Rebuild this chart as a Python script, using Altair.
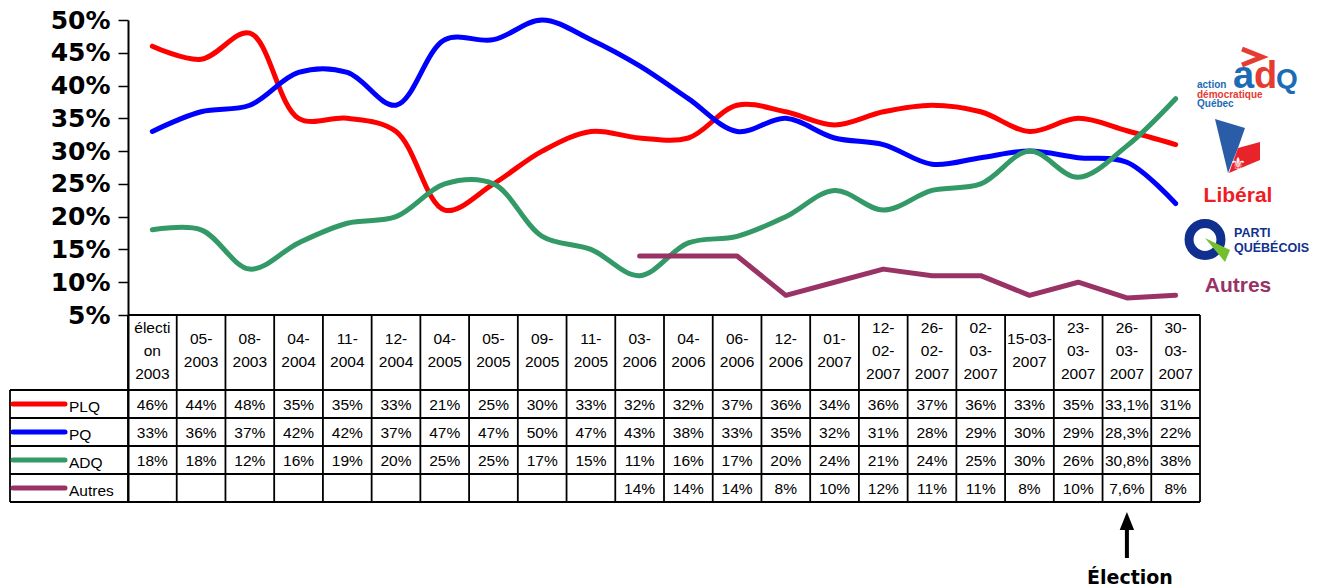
import altair as alt
import pandas as pd

# ---------------- data ----------------
dates = ["électi\non\n2003", "05-\n2003", "08-\n2003", "04-\n2004", "11-\n2004", "12-\n2004",
         "04-\n2005", "05-\n2005", "09-\n2005", "11-\n2005", "03-\n2006", "04-\n2006",
         "06-\n2006", "12-\n2006", "01-\n2007", "12-\n02-\n2007", "26-\n02-\n2007",
         "02-\n03-\n2007", "15-03-\n2007", "23-\n03-\n2007", "26-\n03-\n2007", "30-\n03-\n2007"]
PLQ = [46, 44, 48, 35, 35, 33, 21, 25, 30, 33, 32, 32, 37, 36, 34, 36, 37, 36, 33, 35, 33.1, 31]
PQ = [33, 36, 37, 42, 42, 37, 47, 47, 50, 47, 43, 38, 33, 35, 32, 31, 28, 29, 30, 29, 28.3, 22]
ADQ = [18, 18, 12, 16, 19, 20, 25, 25, 17, 15, 11, 16, 17, 20, 24, 21, 24, 25, 30, 26, 30.8, 38]
AUTRES = [None] * 10 + [14, 14, 14, 8, 10, 12, 11, 11, 8, 10, 7.6, 8]
parties = ["PLQ", "PQ", "ADQ", "Autres"]
colors = ["#FF0000", "#0000FF", "#339966", "#993366"]
y_ticks = [5, 10, 15, 20, 25, 30, 35, 40, 45, 50]
election_index = 20

series = {"PLQ": PLQ, "PQ": PQ, "ADQ": ADQ, "Autres": AUTRES}

# ---------------- geometry ----------------
W = 1072
PLOT_H = 295
HEADER_H = 75
ROW_H = 28
H = PLOT_H + HEADER_H + ROW_H * len(parties)
YTOP = 50
PXU = PLOT_H / 45.0
NCOL = len(dates)
COLW = W / NCOL
LABEL_W = 118
LH = 23

def yu(py):
    return YTOP - py / PXU

YMIN = yu(H)
x_left = -0.5 - LABEL_W / COLW
y_hdr_top = 5
row_lines = [yu(PLOT_H + HEADER_H + k * ROW_H) for k in range(len(parties) + 1)]
hdr_center = yu(PLOT_H + HEADER_H / 2 - 2)
row_centers = [yu(PLOT_H + HEADER_H + (k + 0.5) * ROW_H) for k in range(len(parties))]

xscale = alt.Scale(domain=[-0.5, NCOL - 0.5], nice=False, zero=False)
yscale = alt.Scale(domain=[YMIN, YTOP], nice=False, zero=False)
X = alt.X("x:Q", scale=xscale, axis=None)
Y = alt.Y("y:Q", scale=yscale, axis=alt.Axis(
    values=y_ticks, labelExpr="datum.value + '%'", title=None, grid=False,
    labelFont="DejaVu Sans", labelFontSize=25, labelFontWeight="bold", labelColor="black",
    tickSize=10, tickColor="black", tickWidth=1.5, labelPadding=8,
    domainColor="black", domainWidth=2))
cscale = alt.Scale(domain=parties, range=colors)

# ---------------- table grid ----------------
grid = []
grid.append(dict(x=-0.5, x2=NCOL - 0.5, y=y_hdr_top, y2=y_hdr_top))
for yl in row_lines:
    grid.append(dict(x=x_left, x2=NCOL - 0.5, y=yl, y2=yl))
for k in range(NCOL + 1):
    grid.append(dict(x=k - 0.5, x2=k - 0.5, y=y_hdr_top, y2=YMIN))
grid.append(dict(x=x_left, x2=x_left, y=row_lines[0], y2=YMIN))
grid_df = pd.DataFrame(grid)

grid_layer = alt.Chart(grid_df).mark_rule(color="black", strokeWidth=1.8).encode(
    x=X, x2="x2:Q", y=Y, y2="y2:Q")

# ---------------- lines ----------------
smooth_rows = []
for p in ["PLQ", "PQ", "ADQ"]:
    for i, v in enumerate(series[p]):
        smooth_rows.append(dict(x=i, y=v, party=p))
smooth_df = pd.DataFrame(smooth_rows)
aut_df = pd.DataFrame([dict(x=i, y=v, party="Autres") for i, v in enumerate(AUTRES) if v is not None])

smooth_layer = alt.Chart(smooth_df).mark_line(
    interpolate="catmull-rom", strokeWidth=5, strokeCap="round", strokeJoin="round").encode(
    x=X, y=Y, color=alt.Color("party:N", scale=cscale, legend=None), detail="party:N")
aut_layer = alt.Chart(aut_df).mark_line(
    strokeWidth=5, strokeCap="round", strokeJoin="round").encode(
    x=X, y=Y, color=alt.Color("party:N", scale=cscale, legend=None))

# ---------------- table text ----------------
hdr_rows = []
for i, d in enumerate(dates):
    n = d.count("\n") + 1
    hdr_rows.append(dict(x=i, y=hdr_center + (n - 1) * LH / 2 / PXU, t=d))
hdr_df = pd.DataFrame(hdr_rows)
hdr_layer = alt.Chart(hdr_df).mark_text(
    lineBreak="\n", lineHeight=LH, fontSize=15.5, font="Liberation Sans",
    align="center", baseline="middle", color="black").encode(x=X, y=Y, text="t:N")

def fmt(v):
    return f"{v:g}".replace(".", ",") + "%"

cells = []
for r, p in enumerate(parties):
    for i, v in enumerate(series[p]):
        if v is not None:
            cells.append(dict(x=i, y=row_centers[r], t=fmt(v)))
cell_df = pd.DataFrame(cells)
cell_layer = alt.Chart(cell_df).mark_text(
    fontSize=15.5, font="Liberation Sans", align="center", baseline="middle",
    color="black", dy=1).encode(x=X, y=Y, text="t:N")

lab_df = pd.DataFrame([dict(x=x_left + 3 / COLW, x2=x_left + 55 / COLW, xt=x_left + 59 / COLW,
                            y=row_centers[r], party=p) for r, p in enumerate(parties)])
sample_layer = alt.Chart(lab_df).mark_rule(strokeWidth=5, strokeCap="round").encode(
    x=X, x2="x2:Q", y=Y, color=alt.Color("party:N", scale=cscale, legend=None))
lab_layer = alt.Chart(lab_df).mark_text(
    fontSize=15.5, font="Liberation Sans", align="left", baseline="middle",
    color="black", dy=3).encode(x=alt.X("xt:Q", scale=xscale, axis=None), y=Y, text="party:N")

# ---------------- election arrow ----------------
el_df = pd.DataFrame([dict(x=election_index, t="Élection")])
arrow_shaft = alt.Chart(el_df).mark_rule(color="black", strokeWidth=4).encode(
    x=X, y=alt.value(506), y2=alt.value(538))
arrow_head = alt.Chart(el_df).mark_point(
    shape="M0,-1 L0.8,1 L-0.8,1 Z", size=324, filled=True, color="black", opacity=1).encode(
    x=X, y=alt.value(501))
el_text = alt.Chart(el_df).mark_text(
    font="DejaVu Sans", fontSize=19, fontWeight="bold", color="black",
    align="center", baseline="alphabetic", dx=3).encode(x=X, y=alt.value(564), text="t:N")

# ---------------- logos (decorations) ----------------
one = pd.DataFrame([{"k": 1}])
OX, OY = 128, 20

def poly(verts, color):
    xs = [v[0] for v in verts]
    ys = [v[1] for v in verts]
    cx = (min(xs) + max(xs)) / 2
    cy = (min(ys) + max(ys)) / 2
    h = max(max(xs) - cx, max(ys) - cy)
    path = "M" + " L".join(f"{(x - cx) / h:.3f},{(y - cy) / h:.3f}" for x, y in verts) + " Z"
    return alt.Chart(one).mark_point(shape=path, size=(2 * h) ** 2, filled=True,
                                     color=color, opacity=1, strokeWidth=0).encode(
        x=alt.value(cx - OX), y=alt.value(cy - OY))

def txt(s, px, py, size, color, weight="bold", font="Liberation Sans", align="left"):
    return alt.Chart(one).mark_text(text=s, fontSize=size, fontWeight=weight, font=font,
                                    color=color, align=align, baseline="alphabetic").encode(
        x=alt.value(px - OX), y=alt.value(py - OY))

ADQ_BLUE = "#1c6bb5"
ADQ_RED = "#e63b30"
PQ_BLUE = "#112f8f"

logos = [
    alt.Chart(one).mark_point(shape="M-1,-0.8 L1,0 L-1,0.8", size=400, filled=False,
                              color=ADQ_RED, strokeWidth=5, opacity=1).encode(
        x=alt.value(1252 - OX), y=alt.value(57 - OY)),
    txt("a", 1233, 88, 38, ADQ_BLUE),
    txt("d", 1254, 88, 38, ADQ_RED),
    txt("Q", 1276, 88, 28, ADQ_BLUE),
    txt("action", 1197, 88, 10, ADQ_BLUE),
    txt("démocratique", 1197, 98, 10, ADQ_RED),
    txt("Québec", 1197, 107, 10, ADQ_BLUE),
    poly([(1215, 119), (1245, 128), (1238, 148), (1228, 173)], "#2a5ca8"),
    poly([(1238, 148), (1260, 142), (1260, 160), (1229, 173)], "#e8232a"),
    txt("⚜", 1238, 170, 18, "white", weight="normal", font="DejaVu Sans", align="center"),
    txt("Libéral", 1238, 202, 21, "#ee1c25", align="center"),
    alt.Chart(one).mark_point(shape="circle", size=1018, filled=False, color=PQ_BLUE,
                              strokeWidth=9, opacity=1).encode(
        x=alt.value(1205 - OX), y=alt.value(239.5 - OY)),
    poly([(1205, 238), (1230, 250), (1225, 262)], "#74bf2e"),
    txt("PARTI", 1234, 237, 12.5, PQ_BLUE),
    txt("QUÉBÉCOIS", 1234, 252, 12.5, PQ_BLUE),
    txt("Autres", 1238, 292, 21, "#993366", align="center"),
]

chart = alt.layer(
    grid_layer, smooth_layer, aut_layer, hdr_layer, cell_layer, sample_layer, lab_layer,
    arrow_shaft, arrow_head, el_text, *logos
).properties(
    width=W, height=H,
    padding={"left": 120, "top": 12, "right": 111, "bottom": 86},
    autosize=alt.AutoSizeParams(type="none"),
).configure_view(stroke=None)

chart.save("out.html", embed_options={"renderer": "svg", "actions": False})
